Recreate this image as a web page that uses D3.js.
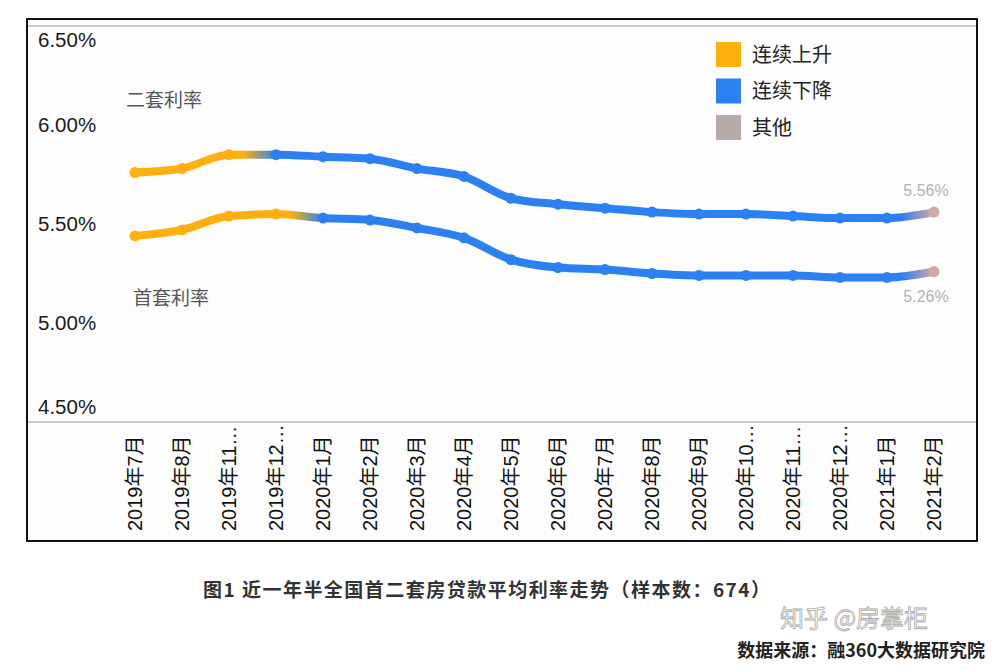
<!DOCTYPE html>
<html>
<head>
<meta charset="utf-8">
<script src="https://cdn.jsdelivr.net/npm/d3@7"></script>
<style>
  body { margin: 0; background: #fff; }
  svg { display: block; font-family: "Liberation Sans", Arial, "Noto Sans CJK SC", sans-serif; }
</style>
</head>
<body>
<div id="chart"></div>
<script>
// Data
const months = ["2019年7月", "2019年8月", "2019年11…", "2019年12…", "2020年1月", "2020年2月",
  "2020年3月", "2020年4月", "2020年5月", "2020年6月", "2020年7月", "2020年8月", "2020年9月",
  "2020年10…", "2020年11…", "2020年12…", "2021年1月", "2021年2月"];
const secondRate = [5.76, 5.78, 5.85, 5.85, 5.84, 5.83, 5.78, 5.74, 5.63, 5.60, 5.58, 5.56, 5.55, 5.55, 5.54, 5.53, 5.53, 5.56];
const firstRate  = [5.44, 5.47, 5.54, 5.55, 5.53, 5.52, 5.48, 5.43, 5.32, 5.28, 5.27, 5.25, 5.24, 5.24, 5.24, 5.23, 5.23, 5.26];
// trend state of each point: up / down / other
const secondState = ["up", "up", "up", "down", "down", "down", "down", "down", "down", "down", "down", "down", "down", "down", "down", "down", "down", "other"];
const firstState  = ["up", "up", "up", "up", "down", "down", "down", "down", "down", "down", "down", "down", "down", "down", "down", "down", "down", "other"];
const yTicks = [4.5, 5.0, 5.5, 6.0, 6.5];
const legendKeys = ["up", "down", "other"];
const legendNames = ["连续上升", "连续下降", "其他"];

const W = 1000, H = 670;
const frame = { left: 27, top: 19, right: 977, bottom: 541 };
const plotTop = 26, baseY = 422;

const color = d3.scaleOrdinal()
  .domain(["up", "down", "other"])
  .range(["#FFB00F", "#2B80F2", "#D2A8A2"]);
const legendColor = d3.scaleOrdinal()
  .domain(["up", "down", "other"])
  .range(["#FFB00F", "#2B80F2", "#B8ABA7"]);

const svg = d3.select("#chart").append("svg")
  .attr("width", W).attr("height", H);

// Frame
svg.append("rect")
  .attr("x", frame.left).attr("y", frame.top)
  .attr("width", frame.right - frame.left).attr("height", frame.bottom - frame.top)
  .attr("fill", "#fdfdfd").attr("stroke", "#111").attr("stroke-width", 2);
svg.append("line")
  .attr("x1", frame.left + 1).attr("x2", frame.right - 1)
  .attr("y1", plotTop).attr("y2", plotTop)
  .attr("stroke", "#999").attr("stroke-width", 1);
svg.append("line")
  .attr("x1", frame.left + 1).attr("x2", frame.right - 1)
  .attr("y1", baseY).attr("y2", baseY)
  .attr("stroke", "#999").attr("stroke-width", 1);

// Scales
const x = d3.scalePoint().domain(months).range([135, 934]);
const y = d3.scaleLinear().domain([4.5, 6.5]).range([baseY, plotTop]);

// Y labels (top/bottom labels are kept inside the plot)
svg.append("g").selectAll("text")
  .data(yTicks)
  .enter().append("text")
  .attr("x", 38)
  .attr("y", d => Math.max(40, Math.min(407, y(d))))
  .attr("dy", "0.35em")
  .attr("font-size", 20.5)
  .attr("fill", "#1a1a1a")
  .text(d => d3.format(".2f")(d) + "%");

// X labels, rotated
svg.append("g").selectAll("text")
  .data(months)
  .enter().append("text")
  .attr("transform", d => `translate(${x(d) + 7},531) rotate(-90)`)
  .attr("text-anchor", "start")
  .attr("font-size", 20)
  .attr("fill", "#111")
  .text(d => d);

// Series with gradient coloured lines
const series = [
  { id: "second", values: secondRate, state: secondState },
  { id: "first", values: firstRate, state: firstState }
];

const defs = svg.append("defs");
const x0 = x(months[0]), x1 = x(months[months.length - 1]);

series.forEach(s => {
  const grad = defs.append("linearGradient")
    .attr("id", "grad-" + s.id)
    .attr("gradientUnits", "userSpaceOnUse")
    .attr("x1", x0).attr("x2", x1).attr("y1", 0).attr("y2", 0);
  const stops = [];
  s.state.forEach((st, i) => {
    const off = (x(months[i]) - x0) / (x1 - x0);
    if (i > 0 && s.state[i - 1] !== st) {
      // blend over the later part of the segment
      const prev = (x(months[i - 1]) - x0) / (x1 - x0);
      stops.push({ off: prev + (off - prev) * 0.3, c: color(s.state[i - 1]) });
    }
    stops.push({ off: off, c: color(st) });
  });
  grad.selectAll("stop").data(stops).enter().append("stop")
    .attr("offset", d => d.off).attr("stop-color", d => d.c);

  const line = d3.line()
    .x((d, i) => x(months[i]))
    .y(d => y(d))
    .curve(d3.curveMonotoneX);

  svg.append("path")
    .datum(s.values)
    .attr("d", line)
    .attr("fill", "none")
    .attr("stroke", `url(#grad-${s.id})`)
    .attr("stroke-width", 8)
    .attr("stroke-linejoin", "round")
    .attr("stroke-linecap", "round");

  svg.append("g").selectAll("circle")
    .data(s.values)
    .enter().append("circle")
    .attr("cx", (d, i) => x(months[i]))
    .attr("cy", d => y(d))
    .attr("r", 5.5)
    .attr("fill", (d, i) => color(s.state[i]));
});

// Series names
svg.append("text").attr("x", 126).attr("y", 107)
  .attr("font-size", 19).attr("fill", "#555").text("二套利率");
svg.append("text").attr("x", 133).attr("y", 305)
  .attr("font-size", 19).attr("fill", "#555").text("首套利率");

// End value labels
const last = months.length - 1;
svg.append("text").attr("x", x(months[last]) - 8).attr("y", y(secondRate[last]) - 16)
  .attr("text-anchor", "middle").attr("font-size", 16).attr("fill", "#b3b3b3")
  .text(d3.format(".2f")(secondRate[last]) + "%");
svg.append("text").attr("x", x(months[last]) - 8).attr("y", y(firstRate[last]) + 30)
  .attr("text-anchor", "middle").attr("font-size", 16).attr("fill", "#b3b3b3")
  .text(d3.format(".2f")(firstRate[last]) + "%");

// Legend
const legend = svg.selectAll(".legend")
  .data(legendKeys)
  .enter().append("g")
  .attr("transform", (d, i) => `translate(716, ${42 + i * 36.5})`);
legend.append("rect")
  .attr("width", 25).attr("height", 25)
  .attr("fill", d => legendColor(d));
legend.append("text")
  .attr("x", 36).attr("y", 12.5).attr("dy", "0.35em")
  .attr("font-family", "'Noto Sans CJK SC', sans-serif")
  .attr("font-size", 20).attr("fill", "#222")
  .text((d, i) => legendNames[i]);

// Caption and source
svg.append("text").attr("x", 203).attr("y", 597)
  .attr("font-family", "'Noto Sans CJK SC', sans-serif")
  .attr("font-size", 19).attr("font-weight", "bold").attr("fill", "#333")
  .attr("textLength", 567)
  .text("图1 近一年半全国首二套房贷款平均利率走势（样本数：674）");
svg.append("text").attr("x", 985).attr("y", 657)
  .attr("text-anchor", "end")
  .attr("font-family", "'Noto Sans CJK SC', sans-serif")
  .attr("font-size", 18).attr("font-weight", "bold").attr("fill", "#222")
  .text("数据来源：融360大数据研究院");
// watermark
svg.append("text").attr("x", 780).attr("y", 627)
  .attr("font-family", "'Noto Sans CJK SC', sans-serif")
  .attr("font-size", 24).attr("fill", "#fff")
  .attr("stroke", "#aaa").attr("stroke-width", 0.8)
  .attr("fill-opacity", 0.85)
  .text("知乎 @房掌柜");
</script>
</body>
</html>
